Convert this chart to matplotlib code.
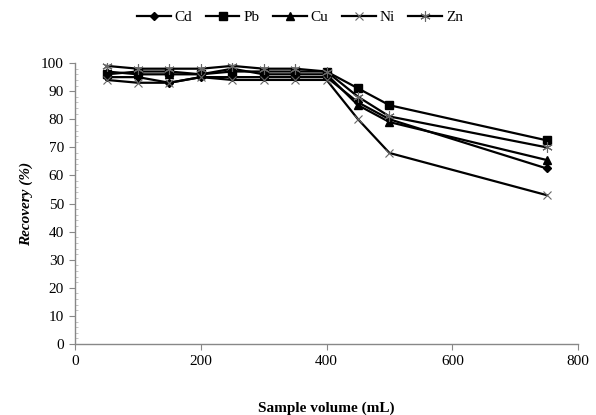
import numpy as np
import matplotlib.pyplot as plt
from matplotlib.ticker import MultipleLocator

plt.rcParams['font.family'] = ['Liberation Serif', 'DejaVu Serif']

# sample volumes (mL)
volume = [50, 100, 150, 200, 250, 300, 350, 400, 450, 500, 750]

# recovery (%) for each metal
cd = [95, 95, 93, 95, 95, 95, 95, 95, 86, 80, 62.5]
pb = [96, 97, 97, 96, 97, 97, 97, 97, 91, 85, 72.5]
cu = [97, 96, 96, 96, 98, 96, 96, 96, 85, 79, 65.5]
ni = [94, 93, 93, 95, 94, 94, 94, 94, 80, 68, 53]
zn = [99, 98, 98, 98, 99, 98, 98, 97, 88, 81, 70]

fig = plt.figure(figsize=(5.96, 4.15), dpi=100)
ax = fig.add_axes([0.126, 0.171, 0.844, 0.677])

ax.plot(volume, cd, '-', color='black', lw=1.6, marker='D', ms=4, label='Cd')
ax.plot(volume, pb, '-', color='black', lw=1.6, marker='s', ms=5.5, label='Pb')
ax.plot(volume, cu, '-', color='black', lw=1.6, marker='^', ms=5.5, label='Cu')
ax.plot(volume, ni, '-', color='black', lw=1.6, marker='x', ms=6, mew=0.8,
        mec='#666666', label='Ni')
ax.plot(volume, zn, '-', color='black', lw=1.6, marker=(6, 2, 0), ms=7.5, mew=0.8,
        mec='#666666', label='Zn')

ax.set_xlim(0, 800)
ax.set_ylim(0, 100)
ax.xaxis.set_major_locator(MultipleLocator(200))
ax.yaxis.set_major_locator(MultipleLocator(10))
ax.yaxis.set_minor_locator(MultipleLocator(2))

for s in ['top', 'right']:
    ax.spines[s].set_visible(False)
for s in ['left', 'bottom']:
    ax.spines[s].set_color('#888888')
    ax.spines[s].set_linewidth(1.0)

ax.tick_params(axis='both', which='major', direction='out', length=4,
               color='#888888', labelsize=11, pad=4)
ax.tick_params(axis='y', which='minor', direction='in', length=2, color='#bbbbbb')

ax.set_xlabel('Sample volume (mL)', fontsize=11, fontweight='bold', labelpad=24)
ax.set_ylabel('Recovery (%)', fontsize=11, fontweight='bold', style='italic', labelpad=6)

ax.legend(loc='center', bbox_to_anchor=(0.447, 1.164), ncol=5, frameon=False,
          fontsize=11, handlelength=2.2, columnspacing=0.9, handletextpad=0.25)

fig.savefig('out.png', dpi=100)
